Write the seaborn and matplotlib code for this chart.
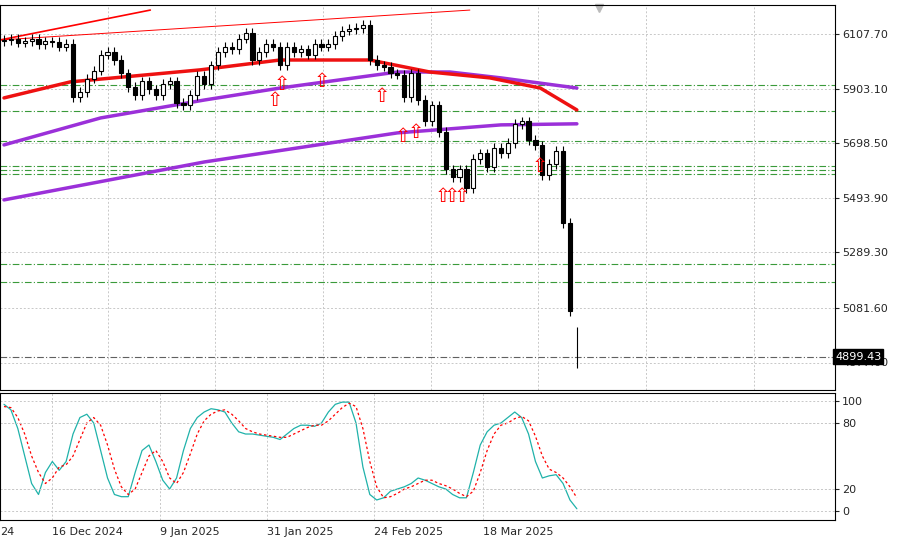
import matplotlib
matplotlib.use("Agg")
import matplotlib.pyplot as plt
import seaborn as sns
import numpy as np
import pandas as pd

sns.set_style("white")
plt.rcParams['font.family'] = ['DejaVu Sans']

closes = [6085,6090,6075,6080,6088,6070,6080,6078,
          6060,6070,5870,5890,5940,5970,6030,6040,
          6010,5960,5910,5880,5930,5900,5880,5920,5930,5850,5840,5880,
          5950,5920,5990,6040,6060,6050,6090,6110,6010,6040,6070,6060,5990,6060,6040,6050,
          6030,6070,6060,6070,6100,6120,6125,6130,6140,6010,5990,5985,5960,5955,
          5870,5960,5860,5780,5840,5740,5600,5570,5600,5530,5640,5660,5610,
          5680,5660,5700,5770,5780,5710,5690,5580,5620,5670,
          5400,5070,4899]
opens = [6080] + closes[:-1]
opens[-1] = 4899
highs = [max(o, c) + 18 for o, c in zip(opens, closes)]
lows = [min(o, c) - 18 for o, c in zip(opens, closes)]
highs[-1] = 5010
lows[-1] = 4855

stoch_k = [97,92,75,50,25,15,35,45,37,45, 70,85,88,80,55,30,15,13,13,35,
           55,60,45,28,20,30,55,75,85,90, 93,92,90,80,72,70,70,69,68,67,
           65,70,75,78,78,77,80,90,97,99, 99,80,40,15,10,12,18,20,22,25,
           30,28,25,22,20,15,12,12,35,60, 72,78,80,85,90,85,70,45,30,32,
           33,25,10,2]
stoch_d = [95,94,85,70,50,35,25,30,40,42, 50,65,80,85,78,60,38,22,15,20,
           35,50,55,45,30,25,35,52,70,82, 88,91,92,88,82,75,72,70,69,68,
           67,67,70,73,76,78,78,82,88,94, 98,95,75,45,22,12,13,16,20,22,
           25,28,28,25,23,20,16,13,18,35, 55,70,78,80,84,86,82,68,50,38,
           35,30,22,12]

ma_red_i = [0,9.6,28.4,40,53,61.7,70.4,77.7,83]
ma_red_v = [5868,5928,5973,6010,6010,5965,5943,5905,5823]
ma_p1_i = [0,14,29,40,57,64.6,72,83]
ma_p1_v = [5692,5793,5860,5905,5965,5965,5943,5905]
ma_p2_i = [0,29,57,72,83]
ma_p2_v = [5486,5628,5737,5767,5771]

levels = [5917,5819,5707,5613,5598,5583,5246,5179]
arrows_i = [39.3,40.3,46.1,54.8,57.8,59.6,63.6,64.9,66.4,77.7]
arrows_p = [5860,5917,5928,5875,5722,5737,5497,5497,5497,5610]

price_ticks = [6107.70,5903.10,5698.50,5493.90,5289.30,5081.60,4877.00]
date_ticks_i = [-0.58,7,22.6,38.1,53.6,69.4]
date_labels = ["24","16 Dec 2024","9 Jan 2025","31 Jan 2025","24 Feb 2025","18 Mar 2025"]
last_price = 4899.43

fig = plt.figure(figsize=(9,5.47), dpi=100)
ax = fig.add_axes([0.0, 1-390/547, 835/900, 385/547])
ax2 = fig.add_axes([0.0, 1-520/547, 835/900, 127/547])
xlim = (-0.58, 120.4)

for a in (ax, ax2):
    a.set_xlim(*xlim)
    a.grid(True, color="#c8c8c8", linestyle=(0,(2,2)), linewidth=0.7)
    a.set_xticks(np.arange(-0.58, 120, 15.6))
    a.yaxis.tick_right()
    for s in a.spines.values():
        s.set_color("black"); s.set_linewidth(0.8)

ax.set_ylim(4774, 6216)
ax.set_yticks(price_ticks)
ax.set_yticklabels([f"{p:.2f}" for p in price_ticks], fontsize=8)
ax.set_xticklabels([])
ax.tick_params(length=3, pad=2)

for lv in levels:
    ax.axhline(lv, color="#3a9a3a", linestyle=(0,(6,2,1,2)), linewidth=0.8)
ax.axhline(last_price, color="#606060", linestyle=(0,(6,2,1,2)), linewidth=0.8)

ax.plot([-0.58, 21.2], [6085, 6197], color="red", lw=1.2)
ax.plot([-0.58, 67.5], [6085, 6197], color="red", lw=0.7)

sns.lineplot(x=ma_p2_i, y=ma_p2_v, ax=ax, color="#9b30d9", lw=2.5)
sns.lineplot(x=ma_p1_i, y=ma_p1_v, ax=ax, color="#9b30d9", lw=2.5)
sns.lineplot(x=ma_red_i, y=ma_red_v, ax=ax, color="#ee1111", lw=2.5)

idx = np.arange(len(closes))
for i, o, h, l, c in zip(idx, opens, highs, lows, closes):
    ax.vlines(i, l, h, color="black", lw=0.8, zorder=3)
    if abs(c - o) < 1:
        continue
    bull = c >= o
    ax.bar(i, abs(c-o), bottom=min(o, c), width=0.6,
           color="white" if bull else "black", edgecolor="black", lw=0.8, zorder=4)

for i, p in zip(arrows_i, arrows_p):
    ax.text(i, p, "⇧", color="red", fontsize=14, ha="center", va="center", zorder=5)

ax.text(1.0, (last_price-4774)/(6216-4774), f"{last_price:.2f}", transform=ax.transAxes,
        fontsize=8, color="white", ha="left", va="center",
        bbox=dict(facecolor="black", edgecolor="black", pad=1.5), clip_on=False)
ax.plot([595/6.9], [6205], marker="v", color="#bbbbbb", ms=6, clip_on=False)

sns.lineplot(x=idx, y=stoch_k, ax=ax2, color="#20b2aa", lw=0.9)
sns.lineplot(x=idx, y=stoch_d, ax=ax2, color="red", lw=0.9, linestyle=(0,(2,2)))
ax2.set_ylim(-8.2, 107.3)
ax2.set_yticks([100,80,20,0])
ax2.set_yticklabels(["100","80","20","0"], fontsize=8)
for v in [80,20]:
    ax2.axhline(v, color="#c8c8c8", linestyle=(0,(2,2)), lw=0.7)
ax2.set_xticks(date_ticks_i)
ax2.set_xticklabels(date_labels, fontsize=8, ha="left")
ax2.tick_params(length=3, pad=2)

fig.savefig("out.png", dpi=100)
